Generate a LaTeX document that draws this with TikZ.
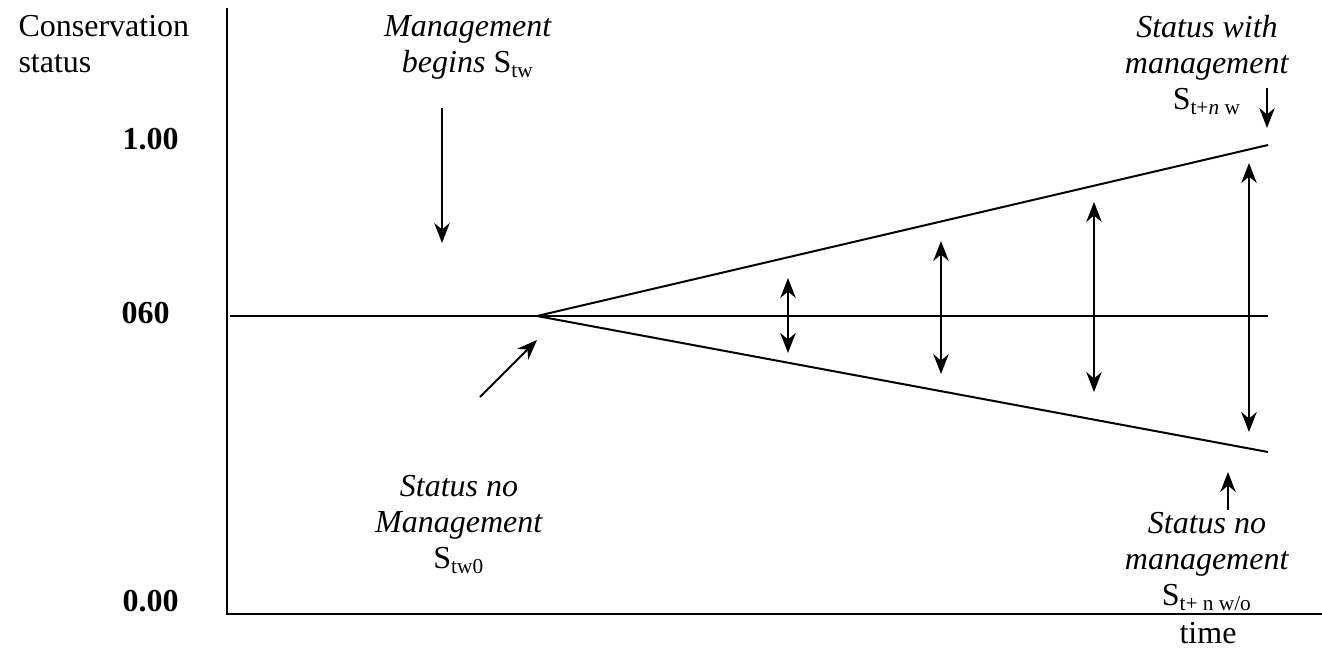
\documentclass[tikz,border=0pt]{standalone}
\usepackage{fontspec}
\setmainfont{Liberation Serif}
\usepackage{tikz}
\usetikzlibrary{arrows.meta,positioning}

\begin{document}
\begin{tikzpicture}[x=0.375pt,y=-0.375pt]
\tikzstyle{lbl}=[inner sep=0pt,align=center,font=\fontsize{12}{13.5}\selectfont]
\tikzstyle{val}=[lbl,font=\fontsize{12}{13.5}\selectfont\bfseries,anchor=base west]
\tikzstyle{axis}=[line width=1.1pt]
\tikzstyle{trend}=[line width=0.75pt]
\tikzstyle{arr}=[line width=0.75pt,-{Stealth[length=7.5pt,width=5.8pt]}]
\tikzstyle{darr}=[line width=0.75pt,{Stealth[length=7.5pt,width=5.8pt]}-{Stealth[length=7.5pt,width=5.8pt]}]
\useasboundingbox (0,0) rectangle (1322,661);
% axes
\coordinate (ytop) at (227,8);
\coordinate (org) at (227,614);
\coordinate (xend) at (1322,614);
\draw[axis] (ytop) -- (org) -- (xend);
\node[lbl,anchor=north west,align=left] (ylab) at (18,15) {Conservation\\status};
\node[val] (v100) at (122,149) {1.00};
\node[val] (v060) at (121,323) {060};
\node[val] (v000) at (122,611) {0.00};
\node[lbl,anchor=base] (time) at (1208,643) {time};
% status lines
\coordinate (ml) at (230,316);
\coordinate (mr) at (1268,316);
\coordinate (o) at (537,316);
\coordinate (hi) at (1268,145);
\coordinate (lo) at (1268,452);
\draw[trend] (ml) -- (mr);
\draw[trend] (hi) -- (o) -- (lo);
% gap between the two
\foreach \x/\t/\b [count=\i] in {788/278/353, 941/241/374, 1094/202/392, 1249/163/432}
{
\coordinate (u\i) at (\x,\t);
\coordinate (d\i) at (\x,\b);
\draw[darr] (u\i) -- (d\i);
}
% labels
\node[lbl,anchor=north] (begin) at (468,15) {\textit{Management}\\\textit{begins} S\textsubscript{tw}};
\coordinate (b1) at (442,108);
\coordinate (b2) at (442,243);
\draw[arr] (b1) -- (b2);
\node[lbl,anchor=north] (nomgt) at (459,475) {\textit{Status no}\\\textit{Management}\\S\textsubscript{tw0}};
\coordinate (n1) at (480,397);
\coordinate (n2) at (537,340);
\draw[arr] (n1) -- (n2);
\node[lbl,anchor=north] (withm) at (1207,15) {\textit{Status with}\\\textit{management}\\S\textsubscript{t+\textit{n} w}};
\coordinate (w1) at (1267,88);
\coordinate (w2) at (1267,128);
\draw[arr] (w1) -- (w2);
\node[lbl,anchor=north] (nom) at (1207,512) {\textit{Status no}\\\textit{management}\\S\textsubscript{t+ n w/o}};
\coordinate (m1) at (1228,510);
\coordinate (m2) at (1228,472);
\draw[arr] (m1) -- (m2);
\end{tikzpicture}
\end{document}
